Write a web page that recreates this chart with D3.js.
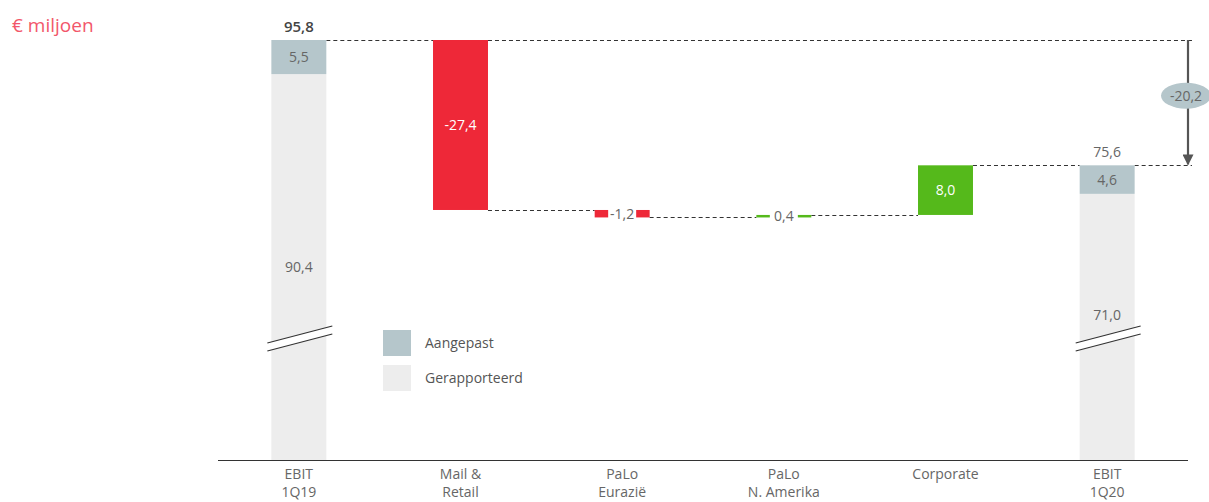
<!DOCTYPE html>
<html>
<head>
<meta charset="utf-8">
<script src="https://cdn.jsdelivr.net/npm/d3@7"></script>
<style>
  body { margin: 0; background: #fff; }
  text { font-family: "Open Sans", "Noto Sans", sans-serif; }
</style>
</head>
<body>
<div id="chart"></div>
<script>
// categories (two-line tick labels)
var categories = [["EBIT", "1Q19"], ["Mail &", "Retail"], ["PaLo", "Eurazië"], ["PaLo", "N. Amerika"], ["Corporate"], ["EBIT", "1Q20"]];
// totals for the two EBIT bars
var totals = [95.8, 75.6];
var reported = [90.4, 71.0];
var adjusted = [5.5, 4.6];
// step changes in between
var deltas = [-27.4, -1.2, 0.4, 8.0];
var totalChange = -20.2;
var legendLabels = ["Aangepast", "Gerapporteerd"];

var W = 1209, H = 502,
	baseY = 460, topY = 40,
	floorValue = 28.1,   // axis is broken; bars start here
	breakY = 335,
	colors = { red: "#ee2838", green: "#55b91b", adj: "#b5c6cb", rep: "#ededed", text: "#666" };

var fmt = function(v) { return d3.format(".1f")(v).replace(".", ",").replace("\u2212", "-"); };

var svg = d3.select("#chart").append("svg")
	.attr("width", W)
	.attr("height", H);

var x = d3.scaleBand()
	.domain(d3.range(categories.length))
	.range([218, 1188])
	.paddingInner(0.66)
	.paddingOuter(0.33);

var y = d3.scaleLinear()
	.domain([floorValue, totals[0]])
	.range([baseY, topY]);

var bw = x.bandwidth();

// build waterfall steps
var steps = [], running = totals[0];
deltas.forEach(function(d, i) {
	var start = running, end = running + d;
	steps.push({ i: i + 1, start: start, end: end, value: d });
	running = end;
});

// connectors
var links = [];
links.push({ x1: x(0) + bw, x2: x(1), v: totals[0] });
steps.forEach(function(s, k) {
	var nx = (k < steps.length - 1) ? x(s.i + 1) : x(5);
	links.push({ x1: x(s.i) + bw, x2: nx, v: s.end });
});
links.push({ x1: x(5) + bw, x2: 1192, v: totals[1] });
links.push({ x1: x(1) + bw, x2: 1192, v: totals[0] });

svg.append("g").selectAll("line")
	.data(links)
	.enter().append("line")
	.attr("x1", function(d) { return d.x1; })
	.attr("x2", function(d) { return d.x2; })
	.attr("y1", function(d) { return Math.round(y(d.v)) + 0.5; })
	.attr("y2", function(d) { return Math.round(y(d.v)) + 0.5; })
	.attr("stroke", "#333")
	.attr("stroke-dasharray", "4,3");

// total bars
var totIdx = [0, 5];
var tg = svg.append("g");
totIdx.forEach(function(ci, k) {
	tg.append("rect")
		.attr("x", x(ci)).attr("width", bw)
		.attr("y", y(totals[k] - adjusted[k]))
		.attr("height", baseY - y(totals[k] - adjusted[k]))
		.attr("fill", colors.rep);
	tg.append("rect")
		.attr("x", x(ci)).attr("width", bw)
		.attr("y", y(totals[k]))
		.attr("height", y(totals[k] - adjusted[k]) - y(totals[k]))
		.attr("fill", colors.adj);

	var cx = x(ci) + bw / 2;
	tg.append("text")
		.attr("x", cx).attr("y", (y(totals[k]) + y(totals[k] - adjusted[k])) / 2 + 5)
		.attr("text-anchor", "middle").attr("font-size", 14).attr("fill", colors.text)
		.text(fmt(adjusted[k]));
	var repTop = y(totals[k] - adjusted[k]);
	tg.append("text")
		.attr("x", cx).attr("y", Math.min((repTop + baseY) / 2, breakY - 20) + 5)
		.attr("text-anchor", "middle").attr("font-size", 14).attr("fill", colors.text)
		.text(fmt(reported[k]));
	tg.append("text")
		.attr("x", cx).attr("y", y(totals[k]) - 8)
		.attr("text-anchor", "middle").attr("font-size", k === 0 ? 15 : 14)
		.attr("font-weight", k === 0 ? 600 : 400)
		.attr("fill", k === 0 ? "#444" : colors.text)
		.text(fmt(totals[k]));

	// axis break marks
	var bx1 = x(ci) - 4, bx2 = x(ci) + bw + 6;
	tg.append("polygon")
		.attr("points", [[bx1, breakY + 8], [bx2, breakY - 9], [bx2, breakY - 1], [bx1, breakY + 16]].join(" "))
		.attr("fill", "#fff");
	[0, 8].forEach(function(o) {
		tg.append("line")
			.attr("x1", bx1).attr("y1", breakY + 8 + o)
			.attr("x2", bx2).attr("y2", breakY - 9 + o)
			.attr("stroke", "#333").attr("stroke-width", 1.2);
	});
});

// delta bars
var dg = svg.append("g").selectAll("g")
	.data(steps)
	.enter().append("g");

dg.append("rect")
	.attr("x", function(d) { return x(d.i); })
	.attr("width", bw)
	.attr("y", function(d) { return y(Math.max(d.start, d.end)); })
	.attr("height", function(d) { return Math.max(2.5, Math.abs(y(d.start) - y(d.end))); })
	.attr("fill", function(d) { return d.value < 0 ? colors.red : colors.green; });

dg.each(function(d) {
	var g = d3.select(this),
		h = Math.abs(y(d.start) - y(d.end)),
		cx = x(d.i) + bw / 2,
		my = (y(d.start) + y(d.end)) / 2;
	if (h > 20) {
		g.append("text")
			.attr("x", cx).attr("y", my + 5)
			.attr("text-anchor", "middle").attr("font-size", 14).attr("fill", "#fff")
			.text(fmt(d.value));
	} else {
		g.append("rect")
			.attr("x", cx - 14).attr("width", 28)
			.attr("y", my - 10).attr("height", 20)
			.attr("fill", "#fff");
		g.append("text")
			.attr("x", cx).attr("y", my + 5)
			.attr("text-anchor", "middle").attr("font-size", 14).attr("fill", colors.text)
			.text(fmt(d.value));
	}
});

// total change arrow
var ax = 1188;
svg.append("defs").append("marker")
	.attr("id", "arr")
	.attr("viewBox", "0 0 10 10")
	.attr("refX", 9).attr("refY", 5)
	.attr("markerWidth", 5).attr("markerHeight", 5)
	.attr("orient", "auto")
	.append("path").attr("d", "M0,0L10,5L0,10Z").attr("fill", "#555");

svg.append("line")
	.attr("x1", ax).attr("x2", ax)
	.attr("y1", y(totals[0])).attr("y2", y(totals[1]) - 1)
	.attr("stroke", "#555").attr("stroke-width", 2.2)
	.attr("marker-end", "url(#arr)");

var ey = (y(totals[0]) + y(totals[1])) / 2 - 7;
svg.append("ellipse")
	.attr("cx", ax - 2).attr("cy", ey)
	.attr("rx", 25).attr("ry", 13)
	.attr("fill", colors.adj);
svg.append("text")
	.attr("x", ax - 2).attr("y", ey + 5)
	.attr("text-anchor", "middle").attr("font-size", 14).attr("fill", colors.text)
	.text(fmt(totalChange));

// x axis
svg.append("line")
	.attr("x1", 218).attr("x2", 1188)
	.attr("y1", baseY + 0.5).attr("y2", baseY + 0.5)
	.attr("stroke", "#333").attr("stroke-width", 1.2);

var tl = svg.append("g").selectAll("text")
	.data(categories)
	.enter().append("text")
	.attr("text-anchor", "middle")
	.attr("font-size", 14)
	.attr("fill", colors.text);

tl.selectAll("tspan")
	.data(function(d, i) { return d.map(function(s) { return { s: s, i: i }; }); })
	.enter().append("tspan")
	.attr("x", function(d) { return x(d.i) + bw / 2; })
	.attr("y", function(d, j) { return 479 + j * 18; })
	.text(function(d) { return d.s; });

// legend
var lg = svg.append("g").attr("transform", "translate(383,330)");
legendLabels.forEach(function(l, i) {
	lg.append("rect")
		.attr("x", 0).attr("y", i * 35)
		.attr("width", 28).attr("height", 26)
		.attr("fill", i === 0 ? colors.adj : colors.rep);
	lg.append("text")
		.attr("x", 42).attr("y", i * 35 + 18)
		.attr("font-size", 14).attr("fill", "#555")
		.text(l);
});

// unit label
svg.append("text")
	.attr("x", 12).attr("y", 32)
	.attr("font-size", 19).attr("fill", "#f2566a")
	.text("€ miljoen");
</script>
</body>
</html>
